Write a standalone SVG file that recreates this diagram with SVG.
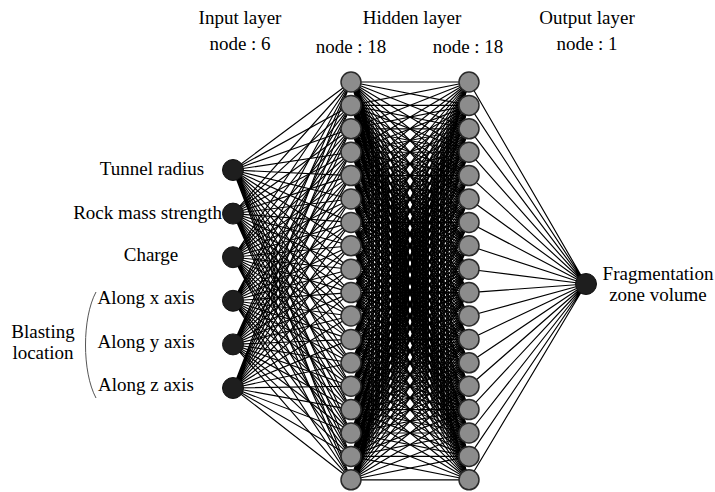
<svg xmlns="http://www.w3.org/2000/svg" width="715" height="492" viewBox="0 0 715 492">
<style>
text{font-family:"Liberation Serif","Times New Roman",serif;font-size:19px;fill:#000}
.c path{fill:none;stroke:#000;stroke-width:1.15}
.in{fill:#1e1e1e;stroke:#111;stroke-width:1}
.hid{fill:#8c8c8c;stroke:#2a2a2a;stroke-width:1.5}
.m{text-anchor:middle}
</style>
<rect width="715" height="492" fill="#fff"/>
<g id="headers">
<text class="m" x="240" y="24">Input layer</text>
<text class="m" x="240" y="50">node : 6</text>
<text class="m" x="412" y="24">Hidden layer</text>
<text class="m" x="351" y="53">node : 18</text>
<text class="m" x="468" y="53">node : 18</text>
<text class="m" x="587" y="24">Output layer</text>
<text class="m" x="587" y="50">node : 1</text>
</g>
<g id="connectors" class="c">
<path d="M233 170 351 82M233 170 351 105.4M233 170 351 128.8M233 170 351 152.2M233 170 351 175.6M233 170 351 199M233 170 351 222.4M233 170 351 245.8M233 170 351 269.2M233 170 351 292.6M233 170 351 316M233 170 351 339.4M233 170 351 362.8M233 170 351 386.2M233 170 351 409.6M233 170 351 433M233 170 351 456.4M233 170 351 479.8"/>
<path d="M233 213.6 351 82M233 213.6 351 105.4M233 213.6 351 128.8M233 213.6 351 152.2M233 213.6 351 175.6M233 213.6 351 199M233 213.6 351 222.4M233 213.6 351 245.8M233 213.6 351 269.2M233 213.6 351 292.6M233 213.6 351 316M233 213.6 351 339.4M233 213.6 351 362.8M233 213.6 351 386.2M233 213.6 351 409.6M233 213.6 351 433M233 213.6 351 456.4M233 213.6 351 479.8"/>
<path d="M233 257.2 351 82M233 257.2 351 105.4M233 257.2 351 128.8M233 257.2 351 152.2M233 257.2 351 175.6M233 257.2 351 199M233 257.2 351 222.4M233 257.2 351 245.8M233 257.2 351 269.2M233 257.2 351 292.6M233 257.2 351 316M233 257.2 351 339.4M233 257.2 351 362.8M233 257.2 351 386.2M233 257.2 351 409.6M233 257.2 351 433M233 257.2 351 456.4M233 257.2 351 479.8"/>
<path d="M233 300.8 351 82M233 300.8 351 105.4M233 300.8 351 128.8M233 300.8 351 152.2M233 300.8 351 175.6M233 300.8 351 199M233 300.8 351 222.4M233 300.8 351 245.8M233 300.8 351 269.2M233 300.8 351 292.6M233 300.8 351 316M233 300.8 351 339.4M233 300.8 351 362.8M233 300.8 351 386.2M233 300.8 351 409.6M233 300.8 351 433M233 300.8 351 456.4M233 300.8 351 479.8"/>
<path d="M233 344.4 351 82M233 344.4 351 105.4M233 344.4 351 128.8M233 344.4 351 152.2M233 344.4 351 175.6M233 344.4 351 199M233 344.4 351 222.4M233 344.4 351 245.8M233 344.4 351 269.2M233 344.4 351 292.6M233 344.4 351 316M233 344.4 351 339.4M233 344.4 351 362.8M233 344.4 351 386.2M233 344.4 351 409.6M233 344.4 351 433M233 344.4 351 456.4M233 344.4 351 479.8"/>
<path d="M233 388 351 82M233 388 351 105.4M233 388 351 128.8M233 388 351 152.2M233 388 351 175.6M233 388 351 199M233 388 351 222.4M233 388 351 245.8M233 388 351 269.2M233 388 351 292.6M233 388 351 316M233 388 351 339.4M233 388 351 362.8M233 388 351 386.2M233 388 351 409.6M233 388 351 433M233 388 351 456.4M233 388 351 479.8"/>
<path d="M351 82 469 82M351 82 469 105.4M351 82 469 128.8M351 82 469 152.2M351 82 469 175.6M351 82 469 199M351 82 469 222.4M351 82 469 245.8M351 82 469 269.2M351 82 469 292.6M351 82 469 316M351 82 469 339.4M351 82 469 362.8M351 82 469 386.2M351 82 469 409.6M351 82 469 433M351 82 469 456.4M351 82 469 479.8"/>
<path d="M351 105.4 469 82M351 105.4 469 105.4M351 105.4 469 128.8M351 105.4 469 152.2M351 105.4 469 175.6M351 105.4 469 199M351 105.4 469 222.4M351 105.4 469 245.8M351 105.4 469 269.2M351 105.4 469 292.6M351 105.4 469 316M351 105.4 469 339.4M351 105.4 469 362.8M351 105.4 469 386.2M351 105.4 469 409.6M351 105.4 469 433M351 105.4 469 456.4M351 105.4 469 479.8"/>
<path d="M351 128.8 469 82M351 128.8 469 105.4M351 128.8 469 128.8M351 128.8 469 152.2M351 128.8 469 175.6M351 128.8 469 199M351 128.8 469 222.4M351 128.8 469 245.8M351 128.8 469 269.2M351 128.8 469 292.6M351 128.8 469 316M351 128.8 469 339.4M351 128.8 469 362.8M351 128.8 469 386.2M351 128.8 469 409.6M351 128.8 469 433M351 128.8 469 456.4M351 128.8 469 479.8"/>
<path d="M351 152.2 469 82M351 152.2 469 105.4M351 152.2 469 128.8M351 152.2 469 152.2M351 152.2 469 175.6M351 152.2 469 199M351 152.2 469 222.4M351 152.2 469 245.8M351 152.2 469 269.2M351 152.2 469 292.6M351 152.2 469 316M351 152.2 469 339.4M351 152.2 469 362.8M351 152.2 469 386.2M351 152.2 469 409.6M351 152.2 469 433M351 152.2 469 456.4M351 152.2 469 479.8"/>
<path d="M351 175.6 469 82M351 175.6 469 105.4M351 175.6 469 128.8M351 175.6 469 152.2M351 175.6 469 175.6M351 175.6 469 199M351 175.6 469 222.4M351 175.6 469 245.8M351 175.6 469 269.2M351 175.6 469 292.6M351 175.6 469 316M351 175.6 469 339.4M351 175.6 469 362.8M351 175.6 469 386.2M351 175.6 469 409.6M351 175.6 469 433M351 175.6 469 456.4M351 175.6 469 479.8"/>
<path d="M351 199 469 82M351 199 469 105.4M351 199 469 128.8M351 199 469 152.2M351 199 469 175.6M351 199 469 199M351 199 469 222.4M351 199 469 245.8M351 199 469 269.2M351 199 469 292.6M351 199 469 316M351 199 469 339.4M351 199 469 362.8M351 199 469 386.2M351 199 469 409.6M351 199 469 433M351 199 469 456.4M351 199 469 479.8"/>
<path d="M351 222.4 469 82M351 222.4 469 105.4M351 222.4 469 128.8M351 222.4 469 152.2M351 222.4 469 175.6M351 222.4 469 199M351 222.4 469 222.4M351 222.4 469 245.8M351 222.4 469 269.2M351 222.4 469 292.6M351 222.4 469 316M351 222.4 469 339.4M351 222.4 469 362.8M351 222.4 469 386.2M351 222.4 469 409.6M351 222.4 469 433M351 222.4 469 456.4M351 222.4 469 479.8"/>
<path d="M351 245.8 469 82M351 245.8 469 105.4M351 245.8 469 128.8M351 245.8 469 152.2M351 245.8 469 175.6M351 245.8 469 199M351 245.8 469 222.4M351 245.8 469 245.8M351 245.8 469 269.2M351 245.8 469 292.6M351 245.8 469 316M351 245.8 469 339.4M351 245.8 469 362.8M351 245.8 469 386.2M351 245.8 469 409.6M351 245.8 469 433M351 245.8 469 456.4M351 245.8 469 479.8"/>
<path d="M351 269.2 469 82M351 269.2 469 105.4M351 269.2 469 128.8M351 269.2 469 152.2M351 269.2 469 175.6M351 269.2 469 199M351 269.2 469 222.4M351 269.2 469 245.8M351 269.2 469 269.2M351 269.2 469 292.6M351 269.2 469 316M351 269.2 469 339.4M351 269.2 469 362.8M351 269.2 469 386.2M351 269.2 469 409.6M351 269.2 469 433M351 269.2 469 456.4M351 269.2 469 479.8"/>
<path d="M351 292.6 469 82M351 292.6 469 105.4M351 292.6 469 128.8M351 292.6 469 152.2M351 292.6 469 175.6M351 292.6 469 199M351 292.6 469 222.4M351 292.6 469 245.8M351 292.6 469 269.2M351 292.6 469 292.6M351 292.6 469 316M351 292.6 469 339.4M351 292.6 469 362.8M351 292.6 469 386.2M351 292.6 469 409.6M351 292.6 469 433M351 292.6 469 456.4M351 292.6 469 479.8"/>
<path d="M351 316 469 82M351 316 469 105.4M351 316 469 128.8M351 316 469 152.2M351 316 469 175.6M351 316 469 199M351 316 469 222.4M351 316 469 245.8M351 316 469 269.2M351 316 469 292.6M351 316 469 316M351 316 469 339.4M351 316 469 362.8M351 316 469 386.2M351 316 469 409.6M351 316 469 433M351 316 469 456.4M351 316 469 479.8"/>
<path d="M351 339.4 469 82M351 339.4 469 105.4M351 339.4 469 128.8M351 339.4 469 152.2M351 339.4 469 175.6M351 339.4 469 199M351 339.4 469 222.4M351 339.4 469 245.8M351 339.4 469 269.2M351 339.4 469 292.6M351 339.4 469 316M351 339.4 469 339.4M351 339.4 469 362.8M351 339.4 469 386.2M351 339.4 469 409.6M351 339.4 469 433M351 339.4 469 456.4M351 339.4 469 479.8"/>
<path d="M351 362.8 469 82M351 362.8 469 105.4M351 362.8 469 128.8M351 362.8 469 152.2M351 362.8 469 175.6M351 362.8 469 199M351 362.8 469 222.4M351 362.8 469 245.8M351 362.8 469 269.2M351 362.8 469 292.6M351 362.8 469 316M351 362.8 469 339.4M351 362.8 469 362.8M351 362.8 469 386.2M351 362.8 469 409.6M351 362.8 469 433M351 362.8 469 456.4M351 362.8 469 479.8"/>
<path d="M351 386.2 469 82M351 386.2 469 105.4M351 386.2 469 128.8M351 386.2 469 152.2M351 386.2 469 175.6M351 386.2 469 199M351 386.2 469 222.4M351 386.2 469 245.8M351 386.2 469 269.2M351 386.2 469 292.6M351 386.2 469 316M351 386.2 469 339.4M351 386.2 469 362.8M351 386.2 469 386.2M351 386.2 469 409.6M351 386.2 469 433M351 386.2 469 456.4M351 386.2 469 479.8"/>
<path d="M351 409.6 469 82M351 409.6 469 105.4M351 409.6 469 128.8M351 409.6 469 152.2M351 409.6 469 175.6M351 409.6 469 199M351 409.6 469 222.4M351 409.6 469 245.8M351 409.6 469 269.2M351 409.6 469 292.6M351 409.6 469 316M351 409.6 469 339.4M351 409.6 469 362.8M351 409.6 469 386.2M351 409.6 469 409.6M351 409.6 469 433M351 409.6 469 456.4M351 409.6 469 479.8"/>
<path d="M351 433 469 82M351 433 469 105.4M351 433 469 128.8M351 433 469 152.2M351 433 469 175.6M351 433 469 199M351 433 469 222.4M351 433 469 245.8M351 433 469 269.2M351 433 469 292.6M351 433 469 316M351 433 469 339.4M351 433 469 362.8M351 433 469 386.2M351 433 469 409.6M351 433 469 433M351 433 469 456.4M351 433 469 479.8"/>
<path d="M351 456.4 469 82M351 456.4 469 105.4M351 456.4 469 128.8M351 456.4 469 152.2M351 456.4 469 175.6M351 456.4 469 199M351 456.4 469 222.4M351 456.4 469 245.8M351 456.4 469 269.2M351 456.4 469 292.6M351 456.4 469 316M351 456.4 469 339.4M351 456.4 469 362.8M351 456.4 469 386.2M351 456.4 469 409.6M351 456.4 469 433M351 456.4 469 456.4M351 456.4 469 479.8"/>
<path d="M351 479.8 469 82M351 479.8 469 105.4M351 479.8 469 128.8M351 479.8 469 152.2M351 479.8 469 175.6M351 479.8 469 199M351 479.8 469 222.4M351 479.8 469 245.8M351 479.8 469 269.2M351 479.8 469 292.6M351 479.8 469 316M351 479.8 469 339.4M351 479.8 469 362.8M351 479.8 469 386.2M351 479.8 469 409.6M351 479.8 469 433M351 479.8 469 456.4M351 479.8 469 479.8"/>
<path d="M469 82 586 284M469 105.4 586 284M469 128.8 586 284M469 152.2 586 284M469 175.6 586 284M469 199 586 284M469 222.4 586 284M469 245.8 586 284M469 269.2 586 284M469 292.6 586 284M469 316 586 284M469 339.4 586 284M469 362.8 586 284M469 386.2 586 284M469 409.6 586 284M469 433 586 284M469 456.4 586 284M469 479.8 586 284"/>
</g>
<g id="input-layer">
<g id="in1"><circle class="in" cx="233" cy="170" r="10.5"/><text class="m" x="152" y="175">Tunnel radius</text></g>
<g id="in2"><circle class="in" cx="233" cy="213.6" r="10.5"/><text x="222" y="219" text-anchor="end">Rock mass strength</text></g>
<g id="in3"><circle class="in" cx="233" cy="257.2" r="10.5"/><text class="m" x="151" y="261">Charge</text></g>
<g id="in4"><circle class="in" cx="233" cy="300.8" r="10.5"/><text class="m" x="146" y="304">Along x axis</text></g>
<g id="in5"><circle class="in" cx="233" cy="344.4" r="10.5"/><text class="m" x="146" y="348">Along y axis</text></g>
<g id="in6"><circle class="in" cx="233" cy="388" r="10.5"/><text class="m" x="146" y="391">Along z axis</text></g>
</g>
<g id="blasting-location">
<path d="M96 292C82 318 82 372 96 398" fill="none" stroke="#555" stroke-width="1"/>
<text class="m" x="43" y="338">Blasting</text>
<text class="m" x="43" y="359">location</text>
</g>
<g id="hidden-layer-1">
<circle class="hid" cx="351" cy="82" r="10"/><circle class="hid" cx="351" cy="105.4" r="10"/><circle class="hid" cx="351" cy="128.8" r="10"/><circle class="hid" cx="351" cy="152.2" r="10"/><circle class="hid" cx="351" cy="175.6" r="10"/><circle class="hid" cx="351" cy="199" r="10"/><circle class="hid" cx="351" cy="222.4" r="10"/><circle class="hid" cx="351" cy="245.8" r="10"/><circle class="hid" cx="351" cy="269.2" r="10"/><circle class="hid" cx="351" cy="292.6" r="10"/><circle class="hid" cx="351" cy="316" r="10"/><circle class="hid" cx="351" cy="339.4" r="10"/><circle class="hid" cx="351" cy="362.8" r="10"/><circle class="hid" cx="351" cy="386.2" r="10"/><circle class="hid" cx="351" cy="409.6" r="10"/><circle class="hid" cx="351" cy="433" r="10"/><circle class="hid" cx="351" cy="456.4" r="10"/><circle class="hid" cx="351" cy="479.8" r="10"/>
</g>
<g id="hidden-layer-2">
<circle class="hid" cx="469" cy="82" r="10"/><circle class="hid" cx="469" cy="105.4" r="10"/><circle class="hid" cx="469" cy="128.8" r="10"/><circle class="hid" cx="469" cy="152.2" r="10"/><circle class="hid" cx="469" cy="175.6" r="10"/><circle class="hid" cx="469" cy="199" r="10"/><circle class="hid" cx="469" cy="222.4" r="10"/><circle class="hid" cx="469" cy="245.8" r="10"/><circle class="hid" cx="469" cy="269.2" r="10"/><circle class="hid" cx="469" cy="292.6" r="10"/><circle class="hid" cx="469" cy="316" r="10"/><circle class="hid" cx="469" cy="339.4" r="10"/><circle class="hid" cx="469" cy="362.8" r="10"/><circle class="hid" cx="469" cy="386.2" r="10"/><circle class="hid" cx="469" cy="409.6" r="10"/><circle class="hid" cx="469" cy="433" r="10"/><circle class="hid" cx="469" cy="456.4" r="10"/><circle class="hid" cx="469" cy="479.8" r="10"/>
</g>
<g id="output-node">
<circle class="in" cx="586" cy="284" r="10.5"/>
<text class="m" x="658" y="280">Fragmentation</text>
<text class="m" x="658" y="301">zone volume</text>
</g>
</svg>
